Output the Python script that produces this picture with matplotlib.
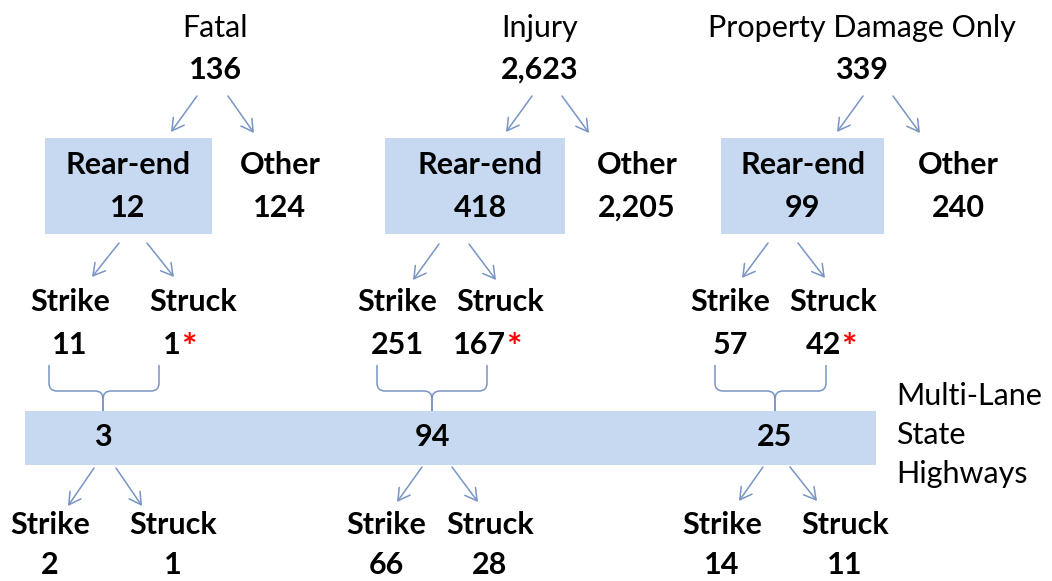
import matplotlib.pyplot as plt
from matplotlib.patches import Rectangle, FancyArrowPatch, PathPatch
from matplotlib.path import Path

plt.rcParams['font.family'] = ['Lato', 'DejaVu Sans']

# Data
categories = ['Fatal', 'Injury', 'Property Damage Only']
totals = ['136', '2,623', '339']
rear_end = ['12', '418', '99']
other = ['124', '2,205', '240']
strike = ['11', '251', '57']
struck = ['1', '167', '42']
mlsh = ['3', '94', '25']
mlsh_strike = ['2', '66', '14']
mlsh_struck = ['1', '28', '11']

# Layout (pixel coordinates) for each group
title_x = [215, 540, 862]
box_x = [(45, 212), (385, 565), (721, 884)]
rear_text_x = [128, 480, 803]
other_x = [280, 637, 958]
strike_x = [70, 397, 730]
struck_x = [193, 500, 833]
struck_num_right = [181, 506, 841]
brace_x = [(49, 159), (377, 487), (715, 826)]
band_num_x = [103, 432, 775]
low_strike_x = [50, 386, 722]
low_struck_x = [173, 490, 845]
# arrows: (x0, y0, x1, y1)
top_arrows = [[(197, 96, 171, 132), (228, 96, 254, 133)],
              [(532, 96, 506, 132), (562, 96, 589, 133)],
              [(863, 96, 837, 132), (893, 96, 920, 133)]]
mid_arrows = [[(119, 243, 92, 277), (147, 243, 174, 277)],
              [(439, 244, 413, 280), (469, 244, 496, 280)],
              [(768, 243, 742, 278), (798, 243, 825, 278)]]
low_arrows = [[(94, 468, 68, 506), (116, 468, 142, 506)],
              [(422, 467, 397, 502), (452, 467, 478, 502)],
              [(763, 467, 739, 501), (790, 467, 817, 501)]]

BOX = '#c6d9f0'
ARROW = '#7895c5'

fig = plt.figure(figsize=(10.52, 5.81), dpi=100)
ax = fig.add_axes([0, 0, 1, 1])
ax.set_xlim(0, 1052)
ax.set_ylim(581, 0)
ax.axis('off')

FS = 22
big = dict(fontsize=FS, fontweight='bold', ha='center', va='center', color='black')
norm = dict(fontsize=FS, ha='center', va='center', color='black')


def arrow(x0, y0, x1, y1):
    ax.add_patch(FancyArrowPatch((x0, y0), (x1, y1), arrowstyle='->,head_length=7,head_width=4',
                                 color=ARROW, lw=1.1, mutation_scale=1.2, shrinkA=0, shrinkB=0))


def brace(xl, xr, xc, ytop=365, ymid=391, ytip=411):
    r = 8
    for xe, s in ((xl, 1), (xr, -1)):
        verts = [(xe, ytop), (xe, ymid - r), (xe, ymid), (xe + s * r, ymid),
                 (xc - s * r, ymid), (xc, ymid), (xc, ymid + r), (xc, ytip)]
        codes = [Path.MOVETO, Path.LINETO, Path.CURVE3, Path.CURVE3,
                 Path.LINETO, Path.CURVE3, Path.CURVE3, Path.LINETO]
        ax.add_patch(PathPatch(Path(verts, codes), fill=False, ec=ARROW, lw=1.1))


# wide multi-lane band
ax.add_patch(Rectangle((25, 411), 851, 54, color=BOX, lw=0))

for i in range(3):
    tx = title_x[i]
    ax.text(tx, 28, categories[i], **norm)
    ax.text(tx, 70, totals[i], **big)

    bx0, bx1 = box_x[i]
    ax.add_patch(Rectangle((bx0, 138), bx1 - bx0, 96, color=BOX, lw=0))
    for a in top_arrows[i] + mid_arrows[i] + low_arrows[i]:
        arrow(*a)

    ax.text(rear_text_x[i], 165, 'Rear-end', **big)
    ax.text(rear_text_x[i], 208, rear_end[i], **big)
    ax.text(other_x[i], 165, 'Other', **big)
    ax.text(other_x[i], 208, other[i], **big)

    ax.text(strike_x[i], 302, 'Strike', **big)
    ax.text(strike_x[i], 345, strike[i], **big)
    ax.text(struck_x[i], 302, 'Struck', **big)
    ax.text(struck_num_right[i], 345, struck[i], fontsize=FS, fontweight='bold',
            ha='right', va='center')
    ax.text(struck_num_right[i], 348, '*', fontsize=FS + 4, fontweight='bold',
            color='red', ha='left', va='center')

    xl, xr = brace_x[i]
    brace(xl, xr, band_num_x[i])
    ax.text(band_num_x[i], 437, mlsh[i], **big)

    ax.text(low_strike_x[i], 525, 'Strike', **big)
    ax.text(low_strike_x[i], 565, mlsh_strike[i], **big)
    ax.text(low_struck_x[i], 525, 'Struck', **big)
    ax.text(low_struck_x[i], 565, mlsh_struck[i], **big)

for k, line in enumerate(['Multi-Lane', 'State', 'Highways']):
    ax.text(896, 396 + 39 * k, line, fontsize=FS, ha='left', va='center')

fig.savefig('out.png', dpi=100)
